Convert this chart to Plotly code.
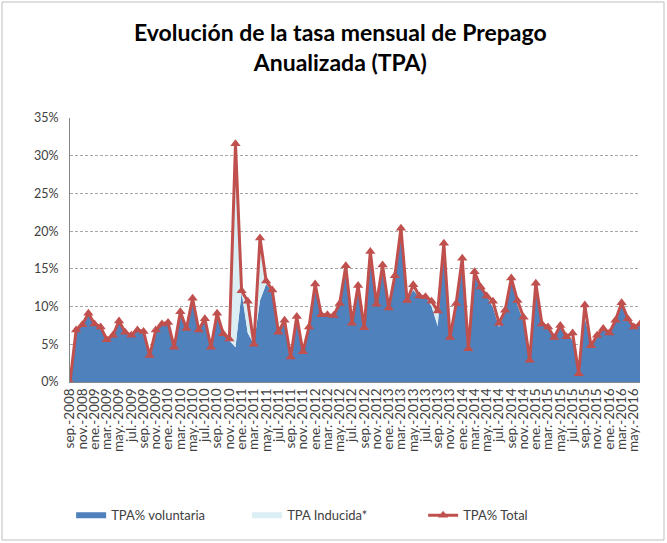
import plotly.graph_objects as go

# ---- data (sep-2008 .. jun-2016, monthly) ----
meses = ["ene", "feb", "mar", "abr", "may", "jun", "jul", "ago", "sep", "oct", "nov", "dic"]
start_year, start_month = 2008, 9
n_points = 94
categorias = []
for k in range(n_points):
    m = (start_month - 1 + k) % 12
    y = start_year + (start_month - 1 + k) // 12
    categorias.append(f"{meses[m]}.-{y}")

tpa_total = [0.0, 6.9, 7.6, 9.1, 7.7, 7.3, 5.6, 6.2, 8.1, 6.6,
             6.2, 6.9, 6.7, 3.5, 6.9, 7.7, 7.9, 4.6, 9.3, 7.1,
             11.1, 6.9, 8.4, 4.6, 9.1, 6.4, 5.7, 31.6, 12.1, 10.7,
             5.0, 19.1, 13.4, 12.2, 6.6, 8.2, 3.3, 8.7, 4.0, 7.3,
             13.0, 8.9, 8.9, 8.8, 10.4, 15.4, 7.8, 12.8, 7.2, 17.3,
             10.3, 15.5, 9.8, 14.1, 20.4, 10.8, 12.9, 11.4, 11.3, 10.7,
             9.4, 18.4, 5.9, 10.4, 16.4, 4.4, 14.6, 12.6, 11.4, 10.7,
             7.8, 9.5, 13.8, 10.8, 8.6, 2.9, 13.1, 7.7, 7.3, 5.9,
             7.5, 6.0, 6.5, 1.1, 10.2, 4.8, 6.2, 7.1, 6.5, 8.2,
             10.5, 8.4, 7.3, 7.7]

tpa_voluntaria = [0.0, 6.9, 7.6, 9.1, 7.7, 7.3, 5.6, 6.2, 8.1, 6.6,
                  6.2, 6.9, 6.7, 3.5, 6.9, 7.7, 7.9, 4.6, 9.3, 7.1,
                  11.1, 6.9, 8.4, 4.6, 9.1, 6.4, 5.5, 4.6, 11.9, 6.5,
                  5.0, 10.8, 13.0, 12.0, 6.6, 8.2, 3.3, 8.7, 4.0, 7.3,
                  13.0, 8.9, 8.9, 8.8, 10.4, 15.4, 7.8, 12.8, 7.2, 17.3,
                  10.3, 15.5, 9.8, 14.1, 20.4, 10.8, 12.2, 11.2, 11.3, 10.0,
                  7.4, 18.4, 5.9, 10.4, 16.4, 4.4, 14.6, 12.6, 11.4, 9.9,
                  7.3, 9.5, 13.8, 10.2, 8.0, 2.9, 13.1, 7.7, 7.3, 5.9,
                  7.5, 6.0, 5.6, 1.1, 8.6, 4.8, 6.2, 7.1, 6.5, 8.2,
                  10.5, 8.4, 7.3, 7.7]

tpa_inducida = [round(t - v, 2) for t, v in zip(tpa_total, tpa_voluntaria)]

y_ticks = [0, 5, 10, 15, 20, 25, 30, 35]
y_ticklabels = ["0%", "5%", "10%", "15%", "20%", "25%", "30%", "35%"]

titulo = "Evolución de la tasa mensual de Prepago<br>Anualizada (TPA)"

x_idx = list(range(n_points))
tick_idx = x_idx[::2]
tick_text = categorias[::2]

FONT = "Lato"
fig = go.Figure()
fig.add_trace(go.Scatter(x=x_idx, y=tpa_voluntaria, name="TPA% voluntaria",
                         stackgroup="a", mode="none", fillcolor="#4F81BD",
                         line=dict(width=0)))
fig.add_trace(go.Scatter(x=x_idx, y=tpa_inducida, name="TPA Inducida*",
                         stackgroup="a", mode="none", fillcolor="#DAEEF3",
                         line=dict(width=0)))
fig.add_trace(go.Scatter(x=x_idx, y=tpa_total, name="TPA% Total",
                         mode="lines+markers",
                         line=dict(color="#C0504D", width=3),
                         marker=dict(symbol="triangle-up", size=9, color="#C0504D")))

fig.update_layout(
    width=667, height=543,
    paper_bgcolor="white", plot_bgcolor="white",
    margin=dict(l=70, r=27, t=118, b=161),
    font=dict(family=FONT, size=12, color="#404040"),
    showlegend=True,
    legend=dict(orientation="h", x=0.002, xanchor="left", y=-0.505, yanchor="middle",
                entrywidth=131, entrywidthmode="pixels",
                font=dict(family=FONT, size=13, color="#404040"),
                traceorder="normal"),
    xaxis=dict(range=[0, 93], tickmode="array", tickvals=tick_idx, ticktext=tick_text,
               tickangle=-90, showgrid=False, zeroline=False, automargin=False,
               showline=True, linecolor="#868686", linewidth=1,
               ticks="", tickfont=dict(family=FONT, size=13.5, color="#404040")),
    yaxis=dict(range=[0, 35], tickmode="array", tickvals=y_ticks, ticktext=y_ticklabels,
               showgrid=True, gridcolor="#A6A6A6", griddash="3px,2px", gridwidth=1,
               zeroline=False, showline=True, linecolor="#868686", linewidth=1,
               ticks="", ticklabelstandoff=8, automargin=False,
               tickfont=dict(family=FONT, size=12.5, color="#404040")),
)

fig.add_annotation(text=titulo, xref="paper", yref="paper",
                   x=(340 - 70) / 570, y=(382 - 47.5) / 264,
                   xanchor="center", yanchor="middle", showarrow=False,
                   font=dict(family=FONT, size=23, color="#000000", weight="bold"))

fig.add_shape(type="rect", xref="paper", yref="paper",
              x0=(2 - 70) / 570, x1=(664 - 70) / 570,
              y0=(382 - 540) / 264, y1=(382 - 2) / 264,
              line=dict(color="#BFBFBF", width=1), layer="below")

fig.write_html("out.html", config={"displayModeBar": False},
               post_script="document.body.style.margin='0';")
